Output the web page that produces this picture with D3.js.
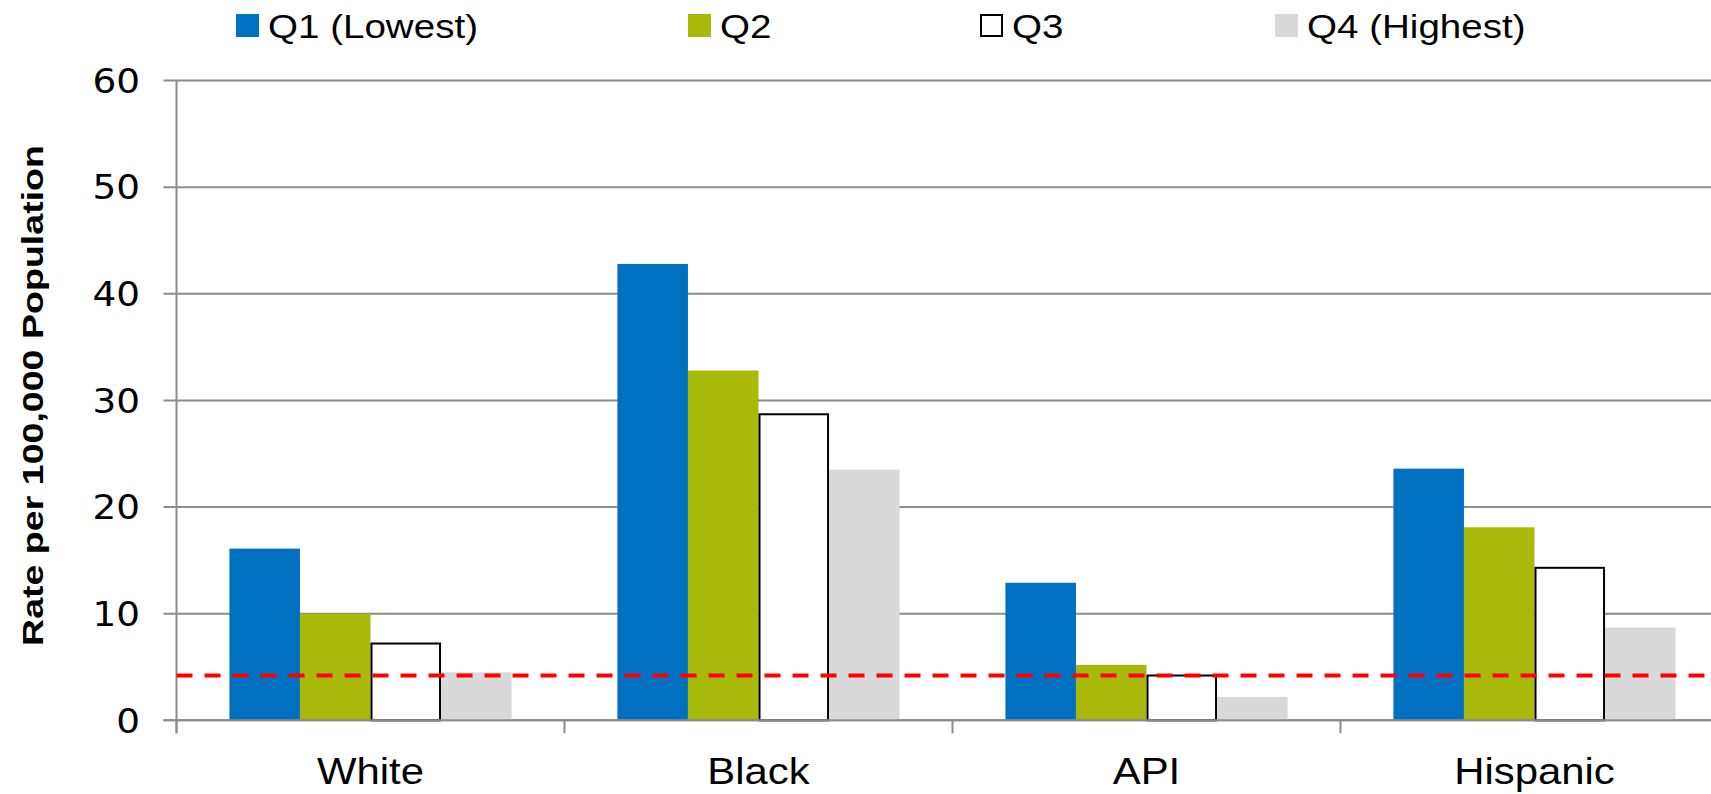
<!DOCTYPE html>
<html>
<head>
<meta charset="utf-8">
<script src="https://cdn.jsdelivr.net/npm/d3@7"></script>
<style>
  html, body { margin: 0; padding: 0; background: #fff; }
  svg { display: block; }
</style>
</head>
<body>
<svg id="chart" width="1711" height="794"></svg>
<script>
// ---- data ----
const categories = ["White", "Black", "API", "Hispanic"];
const seriesNames = ["Q1 (Lowest)", "Q2", "Q3", "Q4 (Highest)"];
const q1Values = [16.1, 42.8, 12.9, 23.6];
const q2Values = [10.0, 32.8, 5.2, 18.1];
const q3Values = [7.2, 28.7, 4.2, 14.3];
const q4Values = [4.5, 23.5, 2.2, 8.7];
const referenceValue = 4.2;
const yTicks = [0, 10, 20, 30, 40, 50, 60];
const yTitle = "Rate per 100,000 Population";

// ---- styles ----
const fills = ["#0070C0", "#A9B90A", "#FFFFFF", "#D9D9D9"];
const strokes = [null, null, "#000000", null];
const gridColor = "#8C8C8C";
const labelFont = "'Liberation Sans', Arial, sans-serif";

const W = 1711, H = 794;
const x0 = 176.5, bandW = 388, yTop = 80.5, yBottom = 720.3;

const svg = d3.select("#chart");

// stretch a selection of texts horizontally by a common factor
function stretch(sel, factor) {
  sel.each(function () {
    const w = this.getComputedTextLength();
    d3.select(this).attr("textLength", w * factor).attr("lengthAdjust", "spacingAndGlyphs");
  });
}
function factorFor(sel, sampleText, target) {
  let f = 1;
  sel.each(function (d) {
    if (d === sampleText) f = target / this.getComputedTextLength();
  });
  return f;
}

const x = d3.scaleBand().domain(categories).range([x0, x0 + bandW * categories.length]).paddingInner(0).paddingOuter(0);
const barW = bandW / 5.5;
const xs = d3.scaleBand().domain(seriesNames).range([barW * 0.75, barW * 4.75]).padding(0);
const y = d3.scaleLinear().domain([0, 60]).range([yBottom, yTop]);

const seriesValues = [q1Values, q2Values, q3Values, q4Values];
const rows = [];
categories.forEach((c, ci) => {
  seriesNames.forEach((s, si) => rows.push({ cat: c, series: s, si, value: seriesValues[si][ci] }));
});

// gridlines
const grid = svg.append("g").attr("class", "grid");
grid.selectAll("line").data(yTicks).join("line")
  .attr("x1", x0 - 13).attr("x2", W)
  .attr("y1", d => y(d)).attr("y2", d => y(d))
  .attr("stroke", gridColor).attr("stroke-width", 2);

// y tick labels
const yLab = svg.append("g").selectAll("text").data(yTicks).join("text")
  .attr("x", 140).attr("y", d => y(d))
  .attr("dy", "0.36em")
  .attr("text-anchor", "end")
  .attr("font-family", "'DejaVu Sans', Verdana, sans-serif")
  .attr("font-size", 34)
  .attr("fill", "#000")
  .text(d => d);
stretch(yLab, 1.1);

// bars
svg.append("g").selectAll("rect").data(rows).join("rect")
  .attr("x", d => x(d.cat) + xs(d.series) + (strokes[d.si] ? 1 : 0))
  .attr("width", d => xs.bandwidth() - (strokes[d.si] ? 2 : 0))
  .attr("y", d => y(d.value))
  .attr("height", d => y(0) - y(d.value))
  .attr("fill", d => fills[d.si])
  .attr("stroke", d => strokes[d.si] || "none")
  .attr("stroke-width", 2);

// x axis baseline & ticks
const axisG = svg.append("g");
axisG.append("line").attr("x1", x0 - 13).attr("x2", W).attr("y1", y(0)).attr("y2", y(0))
  .attr("stroke", gridColor).attr("stroke-width", 2);
const boundaries = categories.map(c => x(c));
axisG.selectAll("line.tick").data(boundaries).join("line").attr("class", "tick")
  .attr("x1", d => d).attr("x2", d => d).attr("y1", y(0)).attr("y2", y(0) + 13)
  .attr("stroke", gridColor).attr("stroke-width", 2);
// y axis line
axisG.append("line").attr("x1", x0).attr("x2", x0).attr("y1", yTop).attr("y2", y(0) + 13)
  .attr("stroke", gridColor).attr("stroke-width", 2);

// category labels
const catLab = svg.append("g").selectAll("text").data(categories).join("text")
  .attr("x", d => x(d) + x.bandwidth() / 2)
  .attr("y", 784)
  .attr("text-anchor", "middle")
  .attr("font-family", labelFont)
  .attr("font-size", 36)
  .attr("fill", "#000")
  .text(d => d);
stretch(catLab, factorFor(catLab, "White", 107));

// reference line
svg.append("line")
  .attr("x1", x0).attr("x2", 1705)
  .attr("y1", y(referenceValue)).attr("y2", y(referenceValue))
  .attr("stroke", "#FF0000").attr("stroke-width", 4)
  .attr("stroke-dasharray", "16,12");

// y title
const yt = svg.append("text")
  .datum(yTitle)
  .attr("transform", `translate(43, ${(145 + 646) / 2}) rotate(-90)`)
  .attr("text-anchor", "middle")
  .attr("font-family", labelFont)
  .attr("font-weight", "bold")
  .attr("font-size", 30)
  .attr("fill", "#000")
  .text(d => d);
stretch(yt, factorFor(yt, yTitle, 501));

// legend
const legendX = [236, 688, 980, 1275];
const leg = svg.append("g").selectAll("g").data(seriesNames).join("g")
  .attr("transform", (d, i) => `translate(${legendX[i]}, 0)`);
leg.append("rect")
  .attr("x", (d, i) => strokes[i] ? 1 : 0).attr("y", (d, i) => strokes[i] ? 15 : 14)
  .attr("width", (d, i) => strokes[i] ? 21 : 23).attr("height", (d, i) => strokes[i] ? 21 : 23)
  .attr("fill", (d, i) => fills[i])
  .attr("stroke", (d, i) => strokes[i] || "none").attr("stroke-width", 2);
const legText = leg.append("text")
  .attr("x", 32).attr("y", 38)
  .attr("font-family", labelFont)
  .attr("font-size", 33)
  .attr("fill", "#000")
  .text(d => d);
stretch(legText, factorFor(legText, "Q1 (Lowest)", 210));
</script>
</body>
</html>
